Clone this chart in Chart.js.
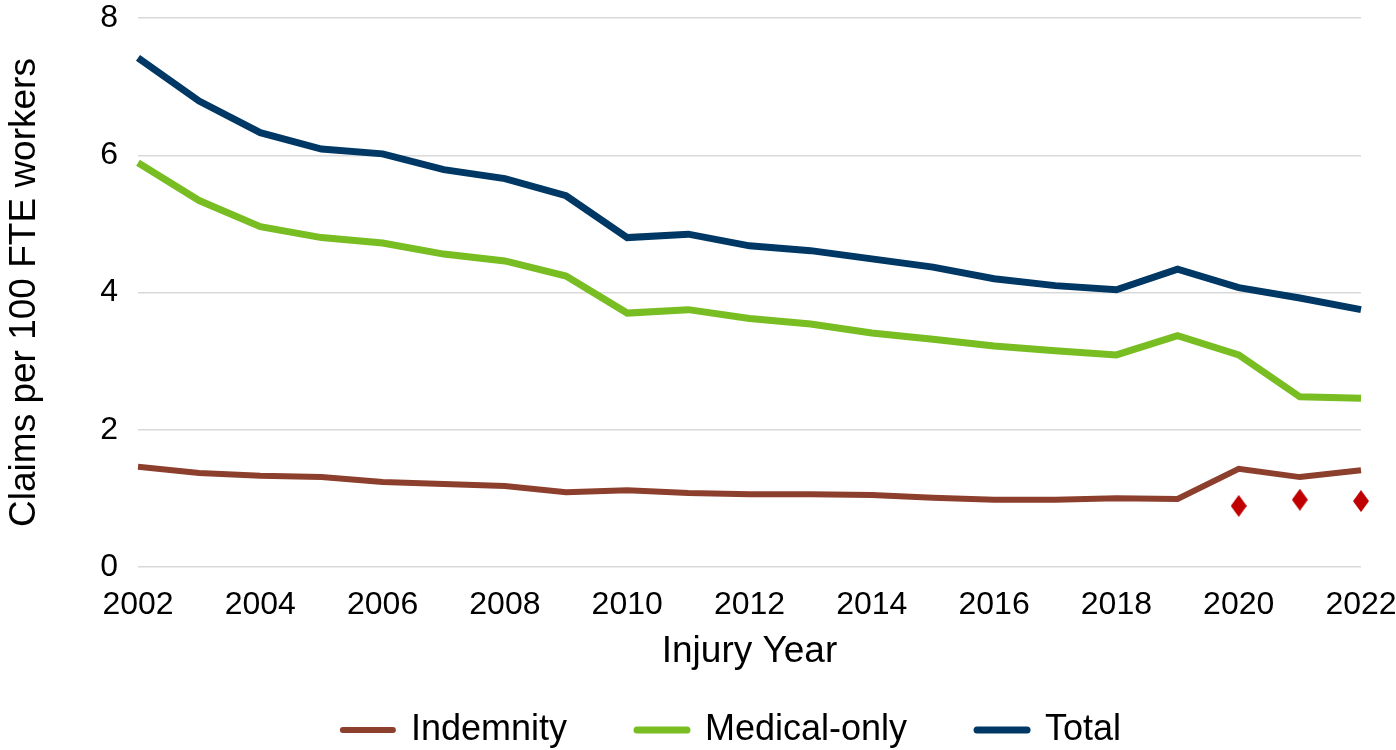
<!DOCTYPE html>
<html>
<head>
<meta charset="utf-8">
<script src="https://cdn.jsdelivr.net/npm/chart.js@4"></script>
<style>
  html, body { margin: 0; padding: 0; background: #fff; }
  #wrap { width: 1396px; height: 750px; }
</style>
</head>
<body>
<div id="wrap"><canvas id="chart"></canvas></div>
<script>
const years = ['2002','2003','2004','2005','2006','2007','2008','2009','2010','2011','2012',
  '2013','2014','2015','2016','2017','2018','2019','2020','2021','2022'];

const indemnity = [1.46, 1.37, 1.33, 1.31, 1.24, 1.21, 1.18, 1.09, 1.12, 1.08, 1.06,
  1.06, 1.05, 1.01, 0.98, 0.98, 1.00, 0.99, 1.43, 1.31, 1.41];
const medicalOnly = [5.89, 5.34, 4.96, 4.80, 4.72, 4.56, 4.46, 4.24, 3.70, 3.75, 3.62,
  3.54, 3.41, 3.32, 3.22, 3.15, 3.09, 3.37, 3.09, 2.48, 2.46];
const total = [7.42, 6.79, 6.33, 6.09, 6.02, 5.79, 5.66, 5.41, 4.80, 4.85, 4.68,
  4.61, 4.49, 4.37, 4.20, 4.10, 4.04, 4.34, 4.07, 3.92, 3.75];
// red diamond markers (2020-2022 only)
const markers = [null, null, null, null, null, null, null, null, null, null, null,
  null, null, null, null, null, null, null, 0.89, 0.98, 0.96];

const font = 'Liberation Sans, Arial, sans-serif';

// tall diamond marker
const diamond = document.createElement('canvas');
diamond.width = 16; diamond.height = 22;
const dc = diamond.getContext('2d');
dc.fillStyle = '#c00000';
dc.beginPath();
dc.moveTo(8, 0); dc.lineTo(16, 11); dc.lineTo(8, 22); dc.lineTo(0, 11);
dc.closePath(); dc.fill();

// move legend a bit (reference legend sits right of centre and lower)
const legendShift = {
  id: 'legendShift',
  afterLayout(chart) {
    const l = chart.legend;
    l.left += 34; l.right += 34;
    l.top += 8; l.bottom += 8;
  }
};

new Chart(document.getElementById('chart'), {
  type: 'line',
  data: {
    labels: years,
    datasets: [
      { label: 'Indemnity', data: indemnity, borderColor: '#8d3f2d', backgroundColor: '#8d3f2d',
        borderWidth: 6, pointRadius: 0, tension: 0 },
      { label: 'Medical-only', data: medicalOnly, borderColor: '#78bd21', backgroundColor: '#78bd21',
        borderWidth: 7, pointRadius: 0, tension: 0 },
      { label: 'Total', data: total, borderColor: '#003865', backgroundColor: '#003865',
        borderWidth: 7, pointRadius: 0, tension: 0 },
      { label: 'marker', data: markers, showLine: false, pointStyle: diamond,
        pointRadius: 10, borderWidth: 0 }
    ]
  },
  options: {
    responsive: true,
    maintainAspectRatio: false,
    animation: false,
    layout: { padding: 0 },
    plugins: {
      tooltip: { enabled: false },
      legend: {
        position: 'bottom',
        labels: {
          usePointStyle: true,
          pointStyle: 'line',
          pointStyleWidth: 50,
          padding: 70,
          color: '#000',
          font: { family: font, size: 36 },
          filter: item => item.text !== 'marker',
          generateLabels: chart => {
            const items = Chart.defaults.plugins.legend.labels.generateLabels(chart);
            items.forEach(it => { it.lineCap = 'round'; it.pointStyle = 'line'; });
            return items;
          }
        }
      }
    },
    scales: {
      x: {
        grid: { display: false },
        border: { display: false },
        afterFit: s => { s.height = 67; s.paddingRight = 35; },
        ticks: {
          autoSkip: false,
          maxRotation: 0,
          padding: 11,
          color: '#000',
          font: { family: font, size: 32 },
          callback: function (v, i) { return i % 2 === 0 ? this.getLabelForValue(v) : ''; }
        },
        title: { display: true, text: 'Injury Year', color: '#000',
          font: { family: font, size: 37 }, padding: { top: 0, bottom: -40 } }
      },
      y: {
        min: 0, max: 8,
        grid: { color: '#d9d9d9', lineWidth: 1.5, drawTicks: false },
        border: { display: false },
        afterFit: s => { s.width = 138; s.paddingTop = 18; },
        ticks: { stepSize: 2, padding: 20, color: '#000', font: { family: font, size: 32 } },
        title: { display: true, text: 'Claims per 100 FTE workers', color: '#000',
          font: { family: font, size: 37 }, padding: { top: 3, bottom: 0 } }
      }
    }
  },
  plugins: [legendShift]
});
</script>
</body>
</html>
